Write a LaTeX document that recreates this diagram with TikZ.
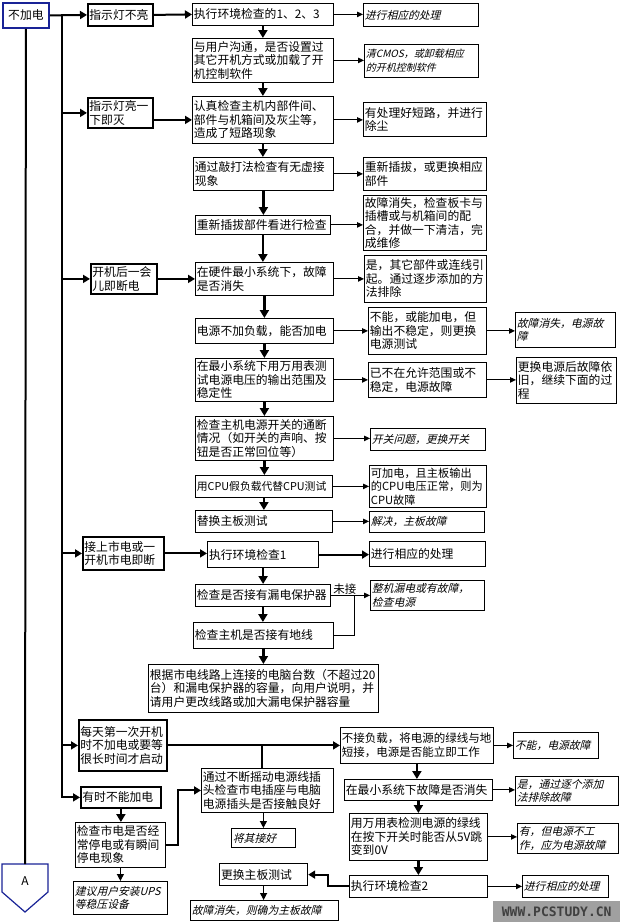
\documentclass[tikz,border=0pt]{standalone}
\usepackage{fontspec}
\setmainfont{Noto Sans CJK SC}
\newfontfamily\slantcjk[FakeSlant=0.25]{Noto Sans CJK SC}
\newfontfamily\markfont{DejaVu Sans Mono}
\usetikzlibrary{arrows.meta}
\definecolor{startblue}{RGB}{25,35,150}
\definecolor{markgray}{RGB}{160,160,160}

\tikzset{
  box/.style={draw, line width=0.8pt, anchor=north west, inner xsep=1.5pt, inner ysep=1pt, align=left, font=\fontsize{11.8}{13.5}\selectfont},
  boldbox/.style={box, line width=1.8pt},
  itbox/.style={box, font=\slantcjk\fontsize{10.8}{13.5}\selectfont},
  startbox/.style={box, draw=startblue, line width=1.8pt, align=center},
  flow/.style={line width=2.2pt, -{Triangle[width=9pt,length=8pt]}},
  lead/.style={line width=2pt, -{Triangle[width=8pt,length=7pt]}},
  side/.style={line width=0.9pt, -{Triangle[width=5.5pt,length=6pt]}},
  thinflow/.style={line width=1.2pt, -{Triangle[width=7pt,length=7pt]}},
  trunk/.style={line width=2pt},
}

\begin{document}
\begin{tikzpicture}[x=1pt, y=-1pt]
\useasboundingbox (0,0) rectangle (622,922);

% left column
\node[startbox, minimum width=46, minimum height=25, text width=43pt] (n0) at (2,2) {不加电};
\node[boldbox, minimum width=65, minimum height=22, text width=62pt] (l1) at (87,3) {指示灯不亮};
\node[boldbox, minimum width=65, minimum height=30, text width=62pt] (l2) at (87,97) {指示灯亮一\\下即灭};
\node[boldbox, minimum width=66, minimum height=30, text width=63pt] (l3) at (90,263) {开机后一会\\儿即断电};
\node[boldbox, minimum width=81, minimum height=33, text width=78pt] (l4) at (82,536) {接上市电或一\\开机市电即断};
\node[boldbox, minimum width=88, minimum height=51, text width=85pt] (l5) at (78,719) {每天第一次开机\\时不加电或要等\\很长时间才启动};
\node[boldbox, minimum width=80, minimum height=21, text width=77pt] (l6) at (80,786) {有时不能加电};
\node[box, minimum width=90, minimum height=45, text width=87pt] (l7) at (75,822) {检查市电是否经\\常停电或有瞬间\\停电现象};
\node[itbox, minimum width=94, minimum height=33, text width=91pt] (l8) at (73,881) {建议用户安装UPS\\等稳压设备};

% middle column
\node[box, minimum width=141, minimum height=22, text width=138pt] (m1) at (192,3) {执行环境检查的1、2、3};
\node[box, minimum width=141, minimum height=44, text width=138pt] (m2) at (192,38) {与用户沟通，是否设置过\\其它开机方式或加载了开\\机控制软件};
\node[box, minimum width=141, minimum height=47, text width=138pt] (m3) at (192,96) {认真检查主机内部件间、\\部件与机箱间及灰尘等，\\造成了短路现象};
\node[box, minimum width=140, minimum height=33, text width=137pt] (m4) at (193,157) {通过敲打法检查有无虚接\\现象};
\node[box, minimum width=135, minimum height=19, text width=132pt] (m5) at (195,215) {重新插拔部件看进行检查};
\node[box, minimum width=138, minimum height=33, text width=135pt] (m6) at (195,262) {在硬件最小系统下，故障\\是否消失};
\node[box, minimum width=138, minimum height=25, text width=135pt] (m7) at (195,318) {电源不加负载，能否加电};
\node[box, minimum width=138, minimum height=43, text width=135pt] (m8) at (195,358) {在最小系统下用万用表测\\试电源电压的输出范围及\\稳定性};
\node[box, minimum width=138, minimum height=44, text width=135pt] (m9) at (195,416) {检查主机电源开关的通断\\情况（如开关的声响、按\\钮是否正常回位等）};
\node[box, font=\fontsize{10.8}{13.5}\selectfont, minimum width=137, minimum height=22, text width=134pt] (m10) at (195,475) {用CPU假负载代替CPU测试};
\node[box, minimum width=137, minimum height=22, text width=134pt] (m11) at (195,510) {替换主板测试};
\node[box, line width=1.2pt, minimum width=111, minimum height=26, text width=108pt] (m12) at (207,541) {执行环境检查1};
\node[box, minimum width=135, minimum height=22, text width=132pt] (m13) at (195,584) {检查是否接有漏电保护器};
\node[box, minimum width=140, minimum height=26, text width=137pt] (m14) at (193,622) {检查主机是否接有地线};
\node[box, minimum width=230, minimum height=48, text width=227pt] (m15) at (148,664) {根据市电线路上连接的电脑台数（不超过20\\台）和漏电保护器的容量，向用户说明，并\\请用户更改线路或加大漏电保护器容量};
\node[box, minimum width=132, minimum height=44, text width=129pt] (m16) at (201,768) {通过不断摇动电源线插\\头检查市电插座与电脑\\电源插头是否接触良好};
\node[itbox, minimum width=64, minimum height=19, text width=61pt] (m17) at (231,828) {将其接好};
\node[box, line width=1.2pt, minimum width=88, minimum height=22, text width=85pt] (m18) at (219,863) {更换主板测试};
\node[itbox, minimum width=148, minimum height=20, text width=145pt] (m19) at (190,900) {故障消失，则确为主板故障};

% right column
\node[itbox, minimum width=115, minimum height=23, text width=112pt] (r1) at (363,3) {进行相应的处理};
\node[itbox, font=\slantcjk\fontsize{10}{13.5}\selectfont, minimum width=114, minimum height=33, text width=111pt] (r2) at (364,44) {清CMOS，或卸载相应\\的开机控制软件};
\node[box, minimum width=123, minimum height=34, text width=120pt] (r3) at (363,102) {有处理好短路，并进行\\除尘};
\node[box, minimum width=123, minimum height=33, text width=120pt] (r4) at (363,157) {重新插拔，或更换相应\\部件};
\node[box, minimum width=123, minimum height=55, text width=120pt] (r5) at (363,195) {故障消失，检查板卡与\\插槽或与机箱间的配\\合，并做一下清洁，完\\成维修};
\node[box, minimum width=122, minimum height=47, text width=119pt] (r6) at (364,255) {是，其它部件或连线引\\起。通过逐步添加的方\\法排除};
\node[box, minimum width=118, minimum height=47, text width=115pt] (r7) at (368,307) {不能，或能加电，但\\输出不稳定，则更换\\电源测试};
\node[box, minimum width=118, minimum height=35, text width=115pt] (r8) at (368,362) {已不在允许范围或不\\稳定，电源故障};
\node[itbox, minimum width=115, minimum height=22, text width=112pt] (r9) at (370,428) {开关问题，更换开关};
\node[box, font=\fontsize{11.2}{13.5}\selectfont, minimum width=117, minimum height=42, text width=114pt] (r10) at (369,465) {可加电，且主板输出\\的CPU电压正常，则为\\CPU故障};
\node[itbox, minimum width=115, minimum height=21, text width=112pt] (r11) at (369,511) {解决，主板故障};
\node[box, minimum width=116, minimum height=25, text width=113pt] (r12) at (369,541) {进行相应的处理};
\node[itbox, minimum width=114, minimum height=30, text width=111pt] (r13) at (370,580) {整机漏电或有故障，\\检查电源};
\node[box, font=\fontsize{11.5}{13.5}\selectfont, minimum width=153, minimum height=36, text width=150pt] (r14) at (340,727) {不接负载，将电源的绿线与地\\短接，电源是否能立即工作};
\node[box, minimum width=148, minimum height=21, text width=145pt] (r15) at (344,779) {在最小系统下故障是否消失};
\node[box, minimum width=138, minimum height=47, text width=135pt] (r16) at (349,813) {用万用表检测电源的绿线\\在按下开关时能否从5V跳\\变到0V};
\node[box, minimum width=138, minimum height=22, text width=135pt] (r17) at (349,875) {执行环境检查2};

% far right column
\node[itbox, minimum width=100, minimum height=35, text width=97pt] (f1) at (515,312) {故障消失，电源故\\障};
\node[box, minimum width=100, minimum height=46, text width=97pt] (f2) at (516,357) {更换电源后故障依\\旧，继续下面的过\\程};
\node[itbox, minimum width=85, minimum height=26, text width=82pt] (f3) at (513,732) {不能，电源故障};
\node[itbox, minimum width=103, minimum height=29, text width=100pt] (f4) at (515,776) {是，通过逐个添加\\法排除故障};
\node[itbox, minimum width=101, minimum height=30, text width=98pt] (f5) at (517,823) {有，但电源不工\\作，应为电源故障};
\node[itbox, minimum width=86, minimum height=22, text width=83pt] (f6) at (522,875) {进行相应的处理};

\node[fill=markgray, anchor=north west, minimum width=127, minimum height=21, inner sep=0pt, text=black!75, font=\markfont\bfseries\fontsize{13}{13}\selectfont] (mark) at (493,901) {WWW.PCSTUDY.CN};

% A connector
\draw[startblue, line width=1.2pt, fill=white] (2,864) -- (48,864) -- (48,892) -- (25,912) -- (2,892) -- cycle;
\node[font=\fontsize{12}{12}\selectfont] (na) at (25,881) {A};
\coordinate (atop) at (25,864);
\draw[trunk] (n0.south) -- (atop);

% trunk and branches
\coordinate (t) at (62,14);
\draw[lead] (n0.east) -- (l1.west);
\draw[lead] (t) |- (l6.west);
\foreach \b in {l2,l3,l4,l5}
  \draw[lead] (t |- \b.west) -- (\b.west);
\draw[lead] (l1.east) -- (m1.west);
\draw[lead] (l2.east |- m3.west) -- (m3.west);
\draw[lead] (l3.east) -- (l3.east -| m6.west);
\draw[lead] (l4.east) -- (l4.east -| m12.west);
\draw[lead] (m12.east) -- (m12.east -| r12.west);
\draw[lead] (l5.east) -- (l5.east -| r14.west);
\draw[trunk] ([xshift=-5pt]m16.north |- l5.east) -- ([xshift=-5pt]m16.north);

% downward chains
\foreach \a/\b in {m1/m2,m2/m3,m3/m4,m4/m5,m5/m6,m6/m7,m7/m8,m8/m9,m9/m10,m10/m11,m12/m13,m13/m14,m14/m15,r14/r15,r15/r16,r16/r17,l6/l7}
  \draw[flow] (\a.south) -- (\a.south |- \b.north);
\draw[thinflow] (l7.south) -- (l7.south |- l8.north);
\draw[thinflow] (m17.north |- m16.south) -- (m17.north);
\draw[thinflow] (m18.south) -- (m18.south |- m19.north);

% side results
\foreach \a/\b in {m1/r1,m2/r2,m3/r3,m4/r4,m5/r5,m6/r6,m7/r7,r7/f1,m8/r8,r8/f2,m9/r9,m10/r10,m11/r11,r14/f3,r15/f4,r16/f5,r17/f6}
  \draw[side] (\a.east) -- (\a.east -| \b.west);
\draw[side] (m13.east) -- node[above, pos=0.36, inner sep=0.5pt, font=\fontsize{11.5}{12}\selectfont] (wj) {未接} (r13.west);
\draw[line width=0.9pt] (m14.east) -| ([xshift=24pt]m13.east);

% elbows
\draw[lead] (l7.east) -- ++(12,0) |- (m16.west);
\draw[lead] (r17.west) -- ++(-21,0) |- (m18.east);
\end{tikzpicture}
\end{document}
